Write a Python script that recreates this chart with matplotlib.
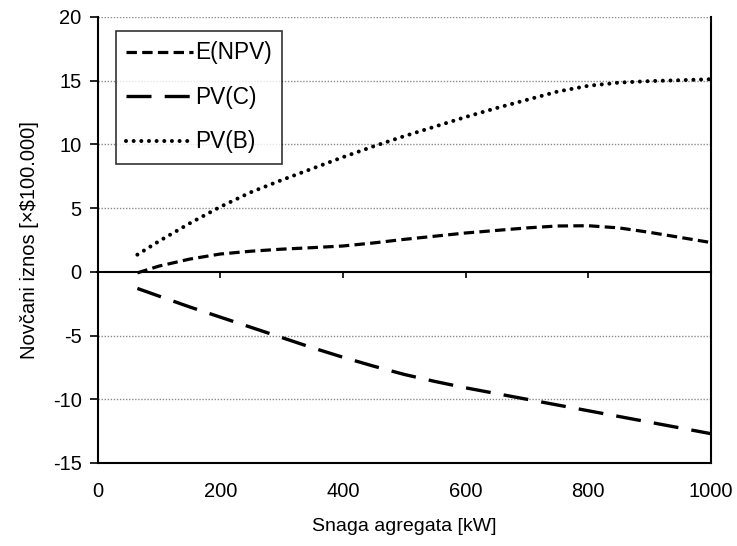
import matplotlib
matplotlib.use("Agg")
import matplotlib.pyplot as plt

plt.rcParams['font.family'] = ['Liberation Sans', 'DejaVu Sans']
plt.rcParams['lines.scale_dashes'] = False
plt.rcParams['axes.unicode_minus'] = False

# Unit power [kW]
snaga = [65, 100, 150, 200, 250, 300, 350, 400, 450, 500,
         550, 600, 650, 700, 750, 800, 850, 900, 950, 1000]

# Amounts in units of $100.000
e_npv = [-0.08, 0.45, 1.0, 1.4, 1.62, 1.78, 1.9, 2.03, 2.27, 2.55,
         2.8, 3.05, 3.25, 3.45, 3.6, 3.62, 3.45, 3.1, 2.7, 2.3]
pv_c = [-1.3, -1.9, -2.75, -3.55, -4.35, -5.15, -5.95, -6.7, -7.4, -8.05,
        -8.6, -9.1, -9.55, -10.0, -10.45, -10.9, -11.35, -11.8, -12.25, -12.7]
pv_b = [1.35, 2.4, 3.8, 5.1, 6.25, 7.2, 8.1, 9.0, 9.85, 10.65,
        11.4, 12.15, 12.85, 13.5, 14.15, 14.6, 14.85, 14.97, 15.04, 15.12]

series_labels = ['E(NPV)', 'PV(C)', 'PV(B)']
x_ticks = [0, 200, 400, 600, 800, 1000]
y_ticks = [-15, -10, -5, 0, 5, 10, 15, 20]
x_label = 'Snaga agregata [kW]'
y_label = 'Novčani iznos [×$100.000]'

fig = plt.figure(figsize=(7.37, 5.46), dpi=100)
ax = fig.add_axes([97.5 / 737, 1 - 463 / 546, 613.5 / 737, 446 / 546])

ax.set_xlim(0, 1000)
ax.set_ylim(-15, 20)

# dotted horizontal grid
for yv in y_ticks:
    if yv not in (0, -15):
        ax.axhline(yv, color='#8c8c8c', lw=1.0, ls=(0, (1, 1.2)), zorder=1)

l1, = ax.plot(snaga, e_npv, color='black', lw=2.3, dashes=(7.5, 3.8),
              dash_capstyle='butt', label=series_labels[0], zorder=3)
l2, = ax.plot(snaga, pv_c, color='black', lw=2.4, dashes=(18, 9.5),
              dash_capstyle='butt', label=series_labels[1], zorder=3)
l3, = ax.plot(snaga, pv_b, color='black', lw=2.9, dashes=(0.01, 5.5),
              dash_capstyle='round', label=series_labels[2], zorder=3)

# spines
ax.spines['top'].set_visible(False)
for s in ('left', 'right', 'bottom'):
    ax.spines[s].set_linewidth(1.5)
    ax.spines[s].set_color('black')

# value axis
ax.set_yticks(y_ticks)
ax.tick_params(axis='y', direction='out', length=5.5, width=1.2,
               labelsize=14.5, pad=6)
ax.set_xticks(x_ticks)
ax.tick_params(axis='x', length=0, labelsize=14.5, pad=14)

# category axis crossing at zero
zero_ax = ax.secondary_xaxis(15 / 35)
zero_ax.set_xticks(x_ticks[1:-1])
zero_ax.set_xticklabels([])
zero_ax.tick_params(axis='x', direction='out', length=4.5, width=1.2)
zero_ax.spines['bottom'].set_linewidth(1.5)

ax.set_xlabel(x_label, fontsize=14, labelpad=12)
ax.set_ylabel(y_label, fontsize=14.5, labelpad=10)

leg = ax.legend(handles=[l1, l2, l3], loc='upper left',
                bbox_to_anchor=(0.03, 0.968), borderaxespad=0,
                fontsize=16.3, frameon=True, fancybox=False,
                handlelength=2.95, handletextpad=0.1, labelspacing=0.95,
                borderpad=0.45)
leg.get_frame().set_edgecolor('black')
leg.get_frame().set_linewidth(1.2)
leg.set_zorder(5)

fig.savefig('out.png', dpi=100)
